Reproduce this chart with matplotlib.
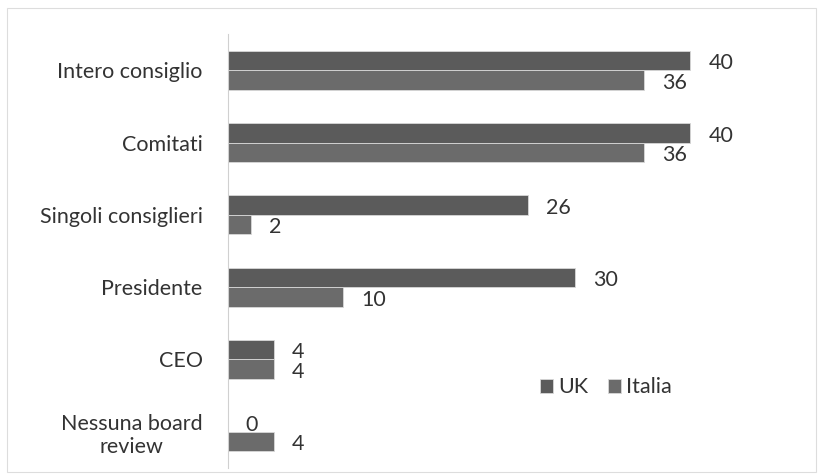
import matplotlib.pyplot as plt
import numpy as np
from matplotlib.patches import Rectangle

categories = ['Intero consiglio', 'Comitati', 'Singoli consiglieri', 'Presidente', 'CEO', 'Nessuna board\nreview']
uk = [40, 40, 26, 30, 4, 0]
italia = [36, 36, 2, 10, 4, 4]

plt.rcParams['font.family'] = ['Lato', 'DejaVu Sans']
fs = 15.5

fig = plt.figure(figsize=(8.22, 4.74), dpi=100)
ax = fig.add_axes([0.277, 0.013, 0.633, 0.915])

y = np.arange(len(categories))
h = 0.27
ax.barh(y - h / 2, uk, height=h, color='#5b5b5b', edgecolor='#d8d8d8', linewidth=0.6, label='UK')
ax.barh(y + h / 2, italia, height=h, color='#6b6b6b', edgecolor='#d8d8d8', linewidth=0.6, label='Italia')

for yi, v in zip(y, uk):
    ax.annotate(str(v), (v, yi - h / 2), xytext=(13, -2), textcoords='offset points',
                va='center', ha='left', fontsize=fs, color='#333333')
for yi, v in zip(y, italia):
    ax.annotate(str(v), (v, yi + h / 2), xytext=(13, -2), textcoords='offset points',
                va='center', ha='left', fontsize=fs, color='#333333')

ax.set_xlim(0, 45)
ax.set_ylim(len(categories) - 0.5, -0.5)
ax.set_yticks(y)
ax.set_yticklabels(categories, fontsize=fs, color='#333333', multialignment='center')
ax.tick_params(axis='y', length=0, pad=18)
ax.set_xticks([])
for s in ['top', 'right', 'bottom']:
    ax.spines[s].set_visible(False)
ax.spines['left'].set_color('#d0d0d0')

fig.legend(loc='center', bbox_to_anchor=(0.737, 0.183), ncol=2, frameon=False,
           fontsize=fs, handlelength=0.6, handleheight=0.6, handletextpad=0.25,
           columnspacing=0.9, labelcolor='#333333')

fig.patches.append(Rectangle((0.008, 0.004), 0.985, 0.98, transform=fig.transFigure,
                             fill=False, edgecolor='#dddddd', linewidth=0.8))

fig.savefig('out.png', dpi=100)
